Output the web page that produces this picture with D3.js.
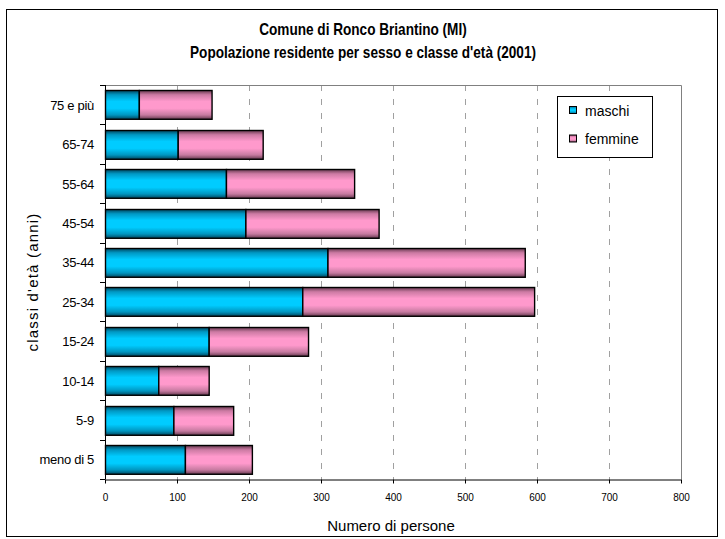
<!DOCTYPE html>
<html>
<head>
<meta charset="utf-8">
<script src="https://cdn.jsdelivr.net/npm/d3@7"></script>
<style>
  html, body { margin: 0; padding: 0; background: #fff; }
  svg { display: block; font-family: "Liberation Sans", Arial, sans-serif; }
</style>
</head>
<body>
<svg id="chart" width="725" height="539"></svg>
<script>
// Age classes, top to bottom
const categories = ["75 e più", "65-74", "55-64", "45-54", "35-44", "25-34", "15-24", "10-14", "5-9", "meno di 5"];
// Residents by sex for each class
const maschi  = [47, 101, 168, 195, 309, 274, 144, 74, 95, 111];
const femmine = [101, 118, 178, 185, 274, 322, 138, 70, 83, 93];
const seriesNames = ["maschi", "femmine"];
const xTicks = [0, 100, 200, 300, 400, 500, 600, 700, 800];
const titleLines = ["Comune di Ronco Briantino (MI)", "Popolazione residente per sesso e classe d'età (2001)"];

const svg = d3.select("#chart");
const plot = { left: 105, right: 681, top: 85, bottom: 479 };

// Gradients giving the bars their shaded, rounded look
const defs = svg.append("defs");
function barGradient(id, stops) {
  const g = defs.append("linearGradient").attr("id", id)
    .attr("x1", 0).attr("y1", 0).attr("x2", 0).attr("y2", 1);
  stops.forEach(([o, c]) => g.append("stop").attr("offset", o).attr("stop-color", c));
}
barGradient("gM", [["0%", "#00465e"], ["15%", "#0098c4"], ["38%", "#00ccff"], ["62%", "#00ccff"], ["85%", "#0096c0"], ["100%", "#00465e"]]);
barGradient("gF", [["0%", "#66394f"], ["15%", "#cc7aa3"], ["38%", "#ff99cc"], ["62%", "#ff99cc"], ["85%", "#c67aa0"], ["100%", "#66394f"]]);
const fills = ["url(#gM)", "url(#gF)"];

// Outer frame
svg.append("rect").attr("x", 6.5).attr("y", 9.5).attr("width", 711).attr("height", 527)
  .attr("fill", "#fff").attr("stroke", "#000").attr("stroke-width", 1);

// Title (condensed bold)
svg.append("g").selectAll("text").data(titleLines).join("text")
  .attr("transform", (d, i) => `translate(363,${35 + i * 23}) scale(0.85,1)`)
  .attr("text-anchor", "middle").attr("font-weight", "bold").attr("font-size", 16)
  .text(d => d);

const x = d3.scaleLinear().domain([0, 800]).range([plot.left, plot.right]);
const y = d3.scaleBand().domain(categories).range([plot.top, plot.bottom]).paddingInner(0.27).paddingOuter(0.135);

// Dashed vertical gridlines
svg.append("g").selectAll("line").data(xTicks.filter(t => t > 0 && t < 800)).join("line")
  .attr("x1", d => x(d) + 0.5).attr("x2", d => x(d) + 0.5)
  .attr("y1", plot.top).attr("y2", plot.bottom)
  .attr("stroke", "#a0a0a0").attr("stroke-width", 1).attr("stroke-dasharray", "6,8");

// Plot area border (top and right)
svg.append("path")
  .attr("d", `M${plot.left},${plot.top + 0.5}H${plot.right + 0.5}V${plot.bottom}`)
  .attr("fill", "none").attr("stroke", "#808080").attr("stroke-width", 1);

// Stacked bars
const stackData = categories.map((c, i) => ({ cat: c, maschi: maschi[i], femmine: femmine[i] }));
const stacked = d3.stack().keys(seriesNames)(stackData);
svg.append("g").selectAll("g").data(stacked).join("g")
  .attr("fill", (d, i) => fills[i])
  .selectAll("rect").data(d => d).join("rect")
  .attr("x", d => x(d[0]) + 0.5)
  .attr("y", d => Math.round(y(d.data.cat)) + 0.5)
  .attr("width", d => x(d[1]) - x(d[0]))
  .attr("height", y.bandwidth())
  .attr("stroke", "#000").attr("stroke-width", 1.4);

// Y axis with ticks between categories
const yAxis = svg.append("g");
yAxis.append("line").attr("x1", plot.left + 0.5).attr("x2", plot.left + 0.5)
  .attr("y1", plot.top).attr("y2", plot.bottom + 0.5).attr("stroke", "#000");
const bounds = d3.range(categories.length + 1).map(i => plot.top + i * (plot.bottom - plot.top) / categories.length);
yAxis.selectAll("line.t").data(bounds).join("line").attr("class", "t")
  .attr("x1", plot.left - 5).attr("x2", plot.left)
  .attr("y1", d => Math.round(d) + 0.5).attr("y2", d => Math.round(d) + 0.5)
  .attr("stroke", "#000");
yAxis.selectAll("text").data(categories).join("text")
  .attr("x", 94).attr("y", d => y(d) + y.bandwidth() / 2 + 5)
  .attr("text-anchor", "end").attr("font-size", 13).attr("letter-spacing", -0.3)
  .text(d => d);

// X axis
const xAxis = svg.append("g").attr("transform", `translate(0,${plot.bottom + 0.5})`)
  .call(d3.axisBottom(x).tickValues(xTicks).tickSize(4).tickPadding(10).tickSizeOuter(0));
xAxis.select(".domain").attr("stroke", "#000");
xAxis.selectAll(".tick line").attr("stroke", "#000");
xAxis.selectAll("text").attr("font-size", 10).attr("font-family", "Liberation Sans, Arial, sans-serif").attr("fill", "#000");

// Axis titles
svg.append("text").attr("x", 391).attr("y", 531)
  .attr("text-anchor", "middle").attr("font-size", 15)
  .text("Numero di persone");
svg.append("text").attr("transform", `translate(38,${(plot.top + plot.bottom) / 2}) rotate(-90)`)
  .attr("text-anchor", "middle").attr("font-size", 15).attr("letter-spacing", 1.2)
  .text("classi d'età (anni)");

// Legend
const legend = svg.append("g");
legend.append("rect").attr("x", 557.5).attr("y", 96.5).attr("width", 95).attr("height", 61)
  .attr("fill", "#fff").attr("stroke", "#000");
const items = legend.selectAll("g").data(seriesNames).join("g")
  .attr("transform", (d, i) => `translate(557,${110 + i * 28.5})`);
items.append("rect").attr("x", 12.5).attr("y", -3.5).attr("width", 7).attr("height", 7)
  .attr("fill", (d, i) => fills[i]).attr("stroke", "#000");
items.append("text").attr("x", 28).attr("y", 5.5).attr("font-size", 14)
  .text(d => d);
</script>
</body>
</html>
